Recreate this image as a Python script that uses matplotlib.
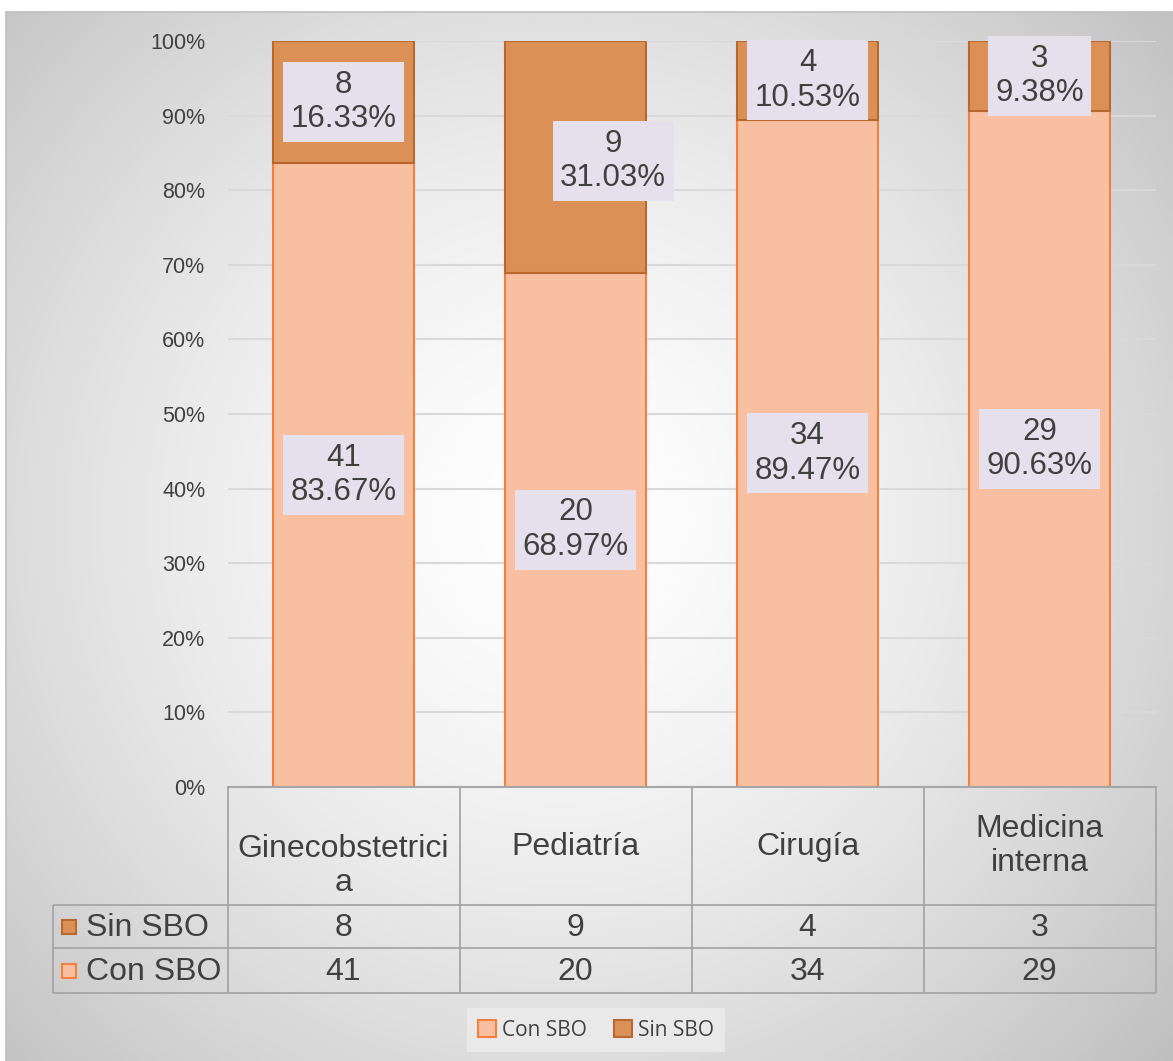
import numpy as np
import matplotlib
matplotlib.use("Agg")
import matplotlib.pyplot as plt
from matplotlib.patches import Rectangle

# ---------------- data ----------------
categories = ["Ginecobstetricia", "Pediatría", "Cirugía", "Medicina interna"]
header_labels = ["Ginecobstetrici\na", "Pediatría", "Cirugía", "Medicina\ninterna"]
con_sbo = [41, 20, 34, 29]
sin_sbo = [8, 9, 4, 3]
series_names = ["Con SBO", "Sin SBO"]
yticks = [0, 10, 20, 30, 40, 50, 60, 70, 80, 90, 100]

# ---------------- style ----------------
FONT = "Liberation Sans"
TXT = "#404040"
CON_FILL, CON_EDGE = "#F8C0A0", "#F5803E"
SIN_FILL, SIN_EDGE = "#DB9056", "#B9692D"
LABEL_BG = "#E6E0EC"
LINE_C = "#A6A6A6"


def pct_str(v):
    # Excel-style half-up rounding to 2 decimals
    return f"{np.floor(v * 100 + 0.5) / 100:.2f}%"


W, H = 1173, 1061
fig = plt.figure(figsize=(W / 100, H / 100), dpi=100)
fig.patch.set_facecolor("white")

# background radial gradient (chart area)
bg = fig.add_axes([6 / W, 0, (W - 6) / W, (H - 12) / H])
ny, nx = 220, 240
yy, xx = np.mgrid[0:1049:ny * 1j, 0:1167:nx * 1j]
cx, cy = 560 - 6, 520 - 12
r = np.hypot(xx - cx, yy - cy)
r = r / r.max()
g = 1 - 0.25 * np.clip(r, 0, 1) ** 1.5
bg.imshow(np.dstack([g, g, g]), extent=[0, 1167, 1049, 0], aspect="auto",
          interpolation="bilinear", zorder=0)
bg.set_xlim(0, 1167)
bg.set_ylim(1049, 0)
bg.axis("off")

# main axes
L, R, T, B = 227.5, 1155.5, 41, 787
ax = fig.add_axes([L / W, (H - B) / H, (R - L) / W, (B - T) / H])
ax.patch.set_alpha(0)

x = np.arange(len(categories))
con = np.array(con_sbo, dtype=float)
sin = np.array(sin_sbo, dtype=float)
tot = con + sin
pc = con / tot * 100
ps = sin / tot * 100

bw = 0.608
ax.bar(x, pc, width=bw, color=CON_FILL, edgecolor=CON_EDGE, linewidth=1.5, zorder=2)
ax.bar(x, ps, bottom=pc, width=bw, color=SIN_FILL, edgecolor=SIN_EDGE, linewidth=1.5, zorder=2)

ax.set_xlim(-0.5, len(categories) - 0.5)
ax.set_ylim(0, 100)
ax.set_yticks(yticks)
ax.set_yticklabels([f"{t}%" for t in yticks], fontfamily=FONT, fontsize=15.5, color=TXT)
ax.set_xticks([])
ax.tick_params(axis="y", length=0, pad=16)
ax.yaxis.grid(True, color="#D9D9D9", linewidth=1.5, zorder=0)
ax.set_axisbelow(True)
for s in ["top", "right", "left"]:
    ax.spines[s].set_visible(False)
ax.spines["bottom"].set_color(LINE_C)
ax.spines["bottom"].set_linewidth(1.5)
ax.spines["bottom"].set_zorder(3)

label_kw = dict(ha="center", va="center", fontfamily=FONT, fontsize=22.5, color=TXT,
                linespacing=1.2, zorder=5,
                bbox=dict(facecolor=LABEL_BG, edgecolor="none", pad=5.5))
for i in range(len(categories)):
    ax.annotate(f"{con_sbo[i]}\n{pct_str(pc[i])}", xy=(x[i], pc[i] / 2), **label_kw)
    off = (27, -3) if i == 1 else (0, 0)
    ax.annotate(f"{sin_sbo[i]}\n{pct_str(ps[i])}", xy=(x[i], pc[i] + ps[i] / 2),
                xytext=off, textcoords="offset points", **label_kw)

# overlay in pixel coordinates for data table and frame lines
ov = fig.add_axes([0, 0, 1, 1])
ov.set_xlim(0, W)
ov.set_ylim(H, 0)
ov.axis("off")
ov.patch.set_alpha(0)

# chart-area border
ov.plot([6, W], [12, 12], color="#BFBFBF", lw=1.2)
ov.plot([6, 6], [12, H], color="#BFBFBF", lw=1.2)

xedges = np.linspace(L, R, len(categories) + 1)
xcent = (xedges[:-1] + xedges[1:]) / 2
rowlines = [905, 948, 993]
TL = 53
lk = dict(color=LINE_C, lw=1.3, solid_capstyle="butt")
for xe in xedges:
    ov.plot([xe, xe], [B, rowlines[-1]], **lk)
ov.plot([TL, TL], [rowlines[0], rowlines[-1]], **lk)
for yl in rowlines:
    ov.plot([TL, R], [yl, yl], **lk)

tk = dict(ha="center", va="center", fontfamily=FONT, fontsize=23, color=TXT)
header_y = [866, 847, 847, 846]
for i, lab in enumerate(header_labels):
    ov.text(xcent[i], header_y[i], lab, linespacing=1.18, **tk)
row_y = [(rowlines[0] + rowlines[1]) / 2, (rowlines[1] + rowlines[2]) / 2]
rows = [("Sin SBO", sin_sbo, SIN_FILL, SIN_EDGE), ("Con SBO", con_sbo, CON_FILL, CON_EDGE)]
for (name, vals, fc, ec), yr in zip(rows, row_y):
    ov.add_patch(Rectangle((62, yr - 7), 14, 14, facecolor=fc, edgecolor=ec, lw=1.5))
    ov.text(86, yr + 1, name, ha="left", va="center", fontfamily=FONT, fontsize=23, color=TXT)
    for i, v in enumerate(vals):
        ov.text(xcent[i], yr + 1, str(v), **tk)

# legend
handles = [Rectangle((0, 0), 1, 1, facecolor=CON_FILL, edgecolor=CON_EDGE, lw=1.5),
           Rectangle((0, 0), 1, 1, facecolor=SIN_FILL, edgecolor=SIN_EDGE, lw=1.5)]
leg = fig.legend(handles, series_names, loc="center", bbox_to_anchor=(596 / W, 1 - 1030 / H),
                 ncol=2, frameon=True, fancybox=False, facecolor="#EBEBEB", edgecolor="none",
                 framealpha=0.9, handlelength=0.85, handleheight=0.85, handletextpad=0.3,
                 columnspacing=1.3, borderpad=0.55,
                 prop=dict(family="Open Sans", size=15))
for t in leg.get_texts():
    t.set_color(TXT)

fig.savefig("out.png", dpi=100)
